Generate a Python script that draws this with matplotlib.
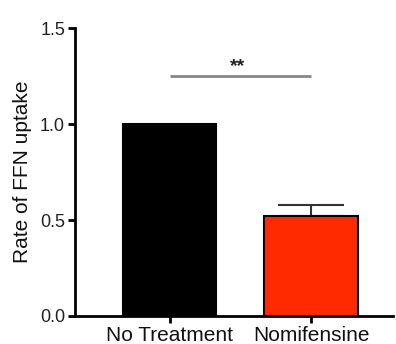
import matplotlib
matplotlib.use("Agg")
import matplotlib.pyplot as plt

# data
groups = ["No Treatment", "Nomifensine"]
rates = [1.0, 0.52]
errors = [0.0, 0.058]
colors = ["#000000", "#FF2A00"]
sig_level = 1.25
sig_text = "**"

plt.rcParams["font.family"] = ["Liberation Sans", "DejaVu Sans"]

fig = plt.figure(figsize=(3.96, 3.44), dpi=100)
ax = fig.add_axes([0.189, 0.0814, 0.803, 0.837])

x = list(range(len(groups)))
ax.bar(x, rates, width=0.66, color=colors, edgecolor="black", linewidth=1.5, zorder=2)
ax.errorbar(x[1:], rates[1:], yerr=[[0] * (len(x) - 1), errors[1:]], fmt="none",
            ecolor="#333333", elinewidth=1.5, capsize=24, capthick=1.5, zorder=1)

# significance bar
ax.plot([x[0], x[1]], [sig_level, sig_level], color="#888888", lw=2, solid_capstyle="butt")
ax.text((x[0] + x[1]) / 2 - 0.02, sig_level + 0.005, sig_text, ha="center", va="bottom",
        fontsize=14, fontweight="bold", color="#222222")

ax.set_xlim(-0.674, 1.58)
ax.set_ylim(0, 1.5)
ax.set_yticks([0.0, 0.5, 1.0, 1.5])
ax.set_yticklabels(["0.0", "0.5", "1.0", "1.5"], fontsize=13, color="#222222")
ax.set_xticks(x)
ax.set_xticklabels(groups, fontsize=15, color="#111111")
ax.set_ylabel("Rate of FFN uptake", fontsize=15, color="#111111", labelpad=6)

for side in ["top", "right"]:
    ax.spines[side].set_visible(False)
for side in ["left", "bottom"]:
    ax.spines[side].set_linewidth(2)
ax.tick_params(axis="both", width=2, length=5, pad=2)

fig.savefig("out.png", dpi=100)
